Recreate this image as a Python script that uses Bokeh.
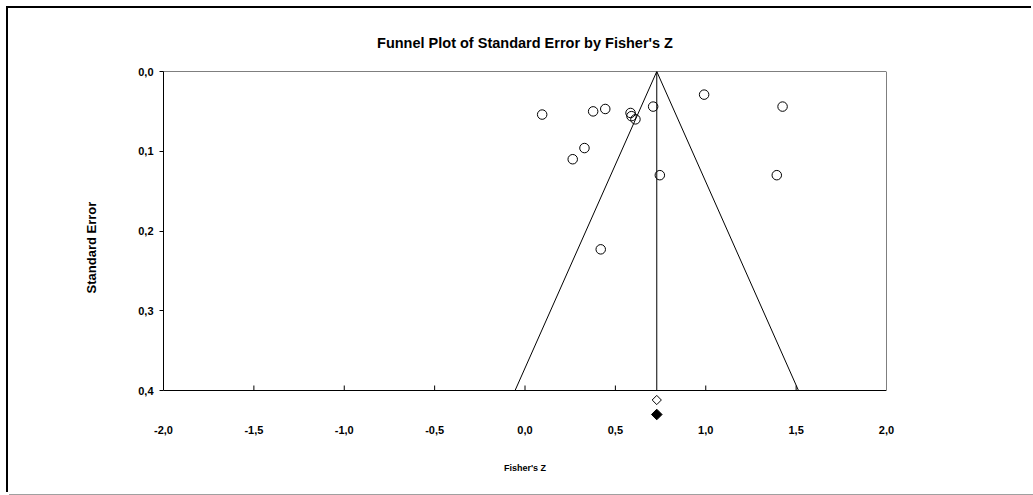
import numpy as np
from bokeh.plotting import figure
from bokeh.models import Range1d, FixedTicker, CustomJSTickFormatter
from bokeh.embed import file_html
from bokeh.resources import INLINE

# ---- data ----
fisher_z = [0.095, 0.377, 0.444, 0.584, 0.589, 0.611, 0.709, 0.991, 1.425,
            0.329, 0.264, 0.746, 1.393, 0.419]
std_err = [0.054, 0.050, 0.047, 0.052, 0.056, 0.060, 0.044, 0.029, 0.044,
           0.096, 0.110, 0.130, 0.130, 0.223]
pooled_z = 0.729          # observed combined estimate (filled diamond)
adjusted_z = 0.729        # adjusted estimate (open diamond)
x_ticks = [-2.0, -1.5, -1.0, -0.5, 0.0, 0.5, 1.0, 1.5, 2.0]
y_ticks = [0.0, 0.1, 0.2, 0.3, 0.4]
x_lim = (-2.0, 2.0)
se_max = 0.4

FONT = "Liberation Sans"

# ---- layout (page coordinates of the reference) ----
OFF_X, OFF_Y = 8, 8                 # figure offset inside the page
W, H = 1033 - OFF_X, 494 - OFF_Y
frame_left_px, frame_right_px = 163, 886
frame_top_px, frame_bottom_px = 71, 423
px_per_unit = 319 / se_max
y_bottom = (frame_bottom_px - frame_top_px) / px_per_unit

p = figure(width=W, height=H, output_backend="svg", toolbar_location=None,
           x_range=Range1d(*x_lim), y_range=Range1d(y_bottom, 0.0),
           min_border_left=frame_left_px - OFF_X,
           min_border_right=OFF_X + W - frame_right_px,
           min_border_top=frame_top_px - OFF_Y,
           min_border_bottom=OFF_Y + H - frame_bottom_px)
p.outline_line_color = None
p.xgrid.visible = False
p.ygrid.visible = False
p.background_fill_color = "white"
p.border_fill_color = "white"
p.styles = {"margin-left": f"{OFF_X}px", "margin-top": f"{OFF_Y}px",
            "box-shadow": "-2px -2px 0 0 #000, 1px 1px 0 0 #a0a0a0"}

p.title.text = "Funnel Plot of Standard Error by Fisher's Z"
p.title.align = "center"
p.title.text_font = FONT
p.title.text_font_size = "14.5px"
p.title.text_font_style = "bold"
p.title.text_color = "black"
p.title.standoff = 41

fmt = CustomJSTickFormatter(code="return tick.toFixed(1).replace('.', ',');")

# y axis
ya = p.yaxis[0]
ya.ticker = FixedTicker(ticks=y_ticks)
ya.formatter = fmt
ya.bounds = (0.0, se_max)
ya.axis_label = "Standard Error"
ya.axis_label_text_font = FONT
ya.axis_label_text_font_size = "13px"
ya.axis_label_text_font_style = "bold"
ya.axis_label_text_color = "black"
ya.axis_label_standoff = 36
ya.major_label_text_font = FONT
ya.major_label_text_font_size = "11px"
ya.major_label_text_font_style = "bold"
ya.major_label_text_color = "black"
ya.major_tick_out = 4
ya.major_tick_in = 0
ya.minor_tick_line_color = None
ya.major_label_standoff = 6
ya.axis_line_color = "black"
ya.major_tick_line_color = "black"

# x axis (labels only; line and ticks drawn at se_max)
xa = p.xaxis[0]
xa.ticker = FixedTicker(ticks=x_ticks)
xa.formatter = fmt
xa.axis_line_color = None
xa.major_tick_line_color = None
xa.minor_tick_line_color = None
xa.major_tick_out = 0
xa.major_tick_in = 0
xa.major_label_standoff = 2
xa.major_label_text_font = FONT
xa.major_label_text_font_size = "11px"
xa.major_label_text_font_style = "bold"
xa.major_label_text_color = "black"
xa.axis_label = "Fisher's Z"
xa.axis_label_text_font = FONT
xa.axis_label_text_font_size = "9px"
xa.axis_label_text_font_style = "bold"
xa.axis_label_text_color = "black"
xa.axis_label_standoff = 26

# plot box
p.quad(left=[x_lim[0]], right=[x_lim[1]], top=[0.0], bottom=[se_max],
       fill_color=None, line_color="black", line_width=1)

# inward x ticks on the bottom line
tick_len = 5 / px_per_unit
inner = [t for t in x_ticks if x_lim[0] < t < x_lim[1]]
p.segment(x0=inner, y0=[se_max] * len(inner), x1=inner,
          y1=[se_max - tick_len] * len(inner), line_color="black", line_width=1)

# funnel
funnel_se = [0.0, se_max]
left_x = [pooled_z - 1.96 * s for s in funnel_se]
right_x = [pooled_z + 1.96 * s for s in funnel_se]
p.line([left_x[1], left_x[0], right_x[1]], [funnel_se[1], funnel_se[0], funnel_se[1]],
       line_color="black", line_width=1)
p.line([pooled_z, pooled_z], funnel_se, line_color="black", line_width=1)

# studies
p.scatter(fisher_z, std_err, marker="circle", size=9.5, fill_color=None,
          line_color="black", line_width=1)

# summary diamonds below the axis
open_y = se_max + 9.5 / px_per_unit
fill_y = se_max + 24 / px_per_unit
p.scatter([adjusted_z], [open_y], marker="square", angle=np.pi / 4, size=6.5,
          fill_color="white", line_color="black", line_width=1)
p.scatter([pooled_z], [fill_y], marker="square", angle=np.pi / 4, size=7.5,
          fill_color="black", line_color="black", line_width=1)

open("out.html", "w").write(file_html(p, INLINE))
